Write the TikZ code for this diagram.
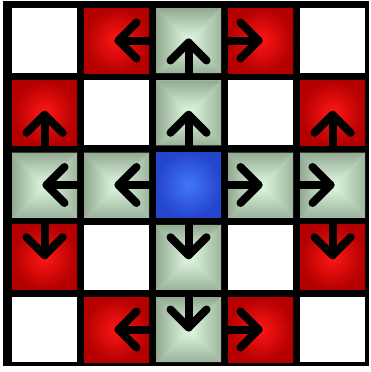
\documentclass[tikz,border=0pt]{standalone}
\usepackage{xcolor}
\usetikzlibrary{calc}
\definecolor{MoveRed}{RGB}{255,22,22}
\definecolor{MoveRedDark}{RGB}{180,0,0}
\definecolor{PathGreen}{RGB}{226,250,226}
\definecolor{PathGreenEdge}{RGB}{146,170,146}
\definecolor{HomeBlue}{RGB}{66,118,250}
\definecolor{HomeBlueDark}{RGB}{36,70,205}

\tikzset{
  mv/.style={line width=8pt, line cap=round, line join=round, black},
  redcell/.style={inner color=MoveRed, outer color=MoveRedDark},
  bluecell/.style={inner color=HomeBlue, outer color=HomeBlueDark},
}

% bevelled green square: four shaded triangles meeting at the centre
\newcommand{\greencell}[2]{%
  \pgfmathsetmacro\gxa{12+72*#1}\pgfmathsetmacro\gxb{\gxa+65}%
  \pgfmathsetmacro\gya{8+72.25*#2}\pgfmathsetmacro\gyb{\gya+65}%
  \pgfmathsetmacro\gxm{\gxa+32.5}\pgfmathsetmacro\gym{\gya+32.5}%
  \fill[PathGreenEdge!45!PathGreen] (\gxa,\gya) rectangle (\gxb,\gyb);
  \shade[top color=PathGreenEdge, bottom color=PathGreen] (\gxa,\gya) -- (\gxb,\gya) -- (\gxm,\gym) -- cycle;
  \shade[bottom color=PathGreenEdge!90!PathGreen, top color=PathGreen] (\gxa,\gyb) -- (\gxb,\gyb) -- (\gxm,\gym) -- cycle;
  \shade[left color=PathGreenEdge, right color=PathGreen] (\gxa,\gya) -- (\gxa,\gyb) -- (\gxm,\gym) -- cycle;
  \shade[right color=PathGreenEdge!85!PathGreen, left color=PathGreen] (\gxb,\gya) -- (\gxb,\gyb) -- (\gxm,\gym) -- cycle;
}

\begin{document}
\begin{tikzpicture}[x=1pt,y=-1pt]
  \path[use as bounding box] (0,0) rectangle (370,372);
  \fill[white] (0,0) rectangle (370,372);
  \fill[black] (3,0.5) rectangle (369,366);
  % white squares
  \foreach \c/\r in {0/0,4/0,1/1,3/1,1/3,3/3,0/4,4/4}
    \fill[white] (12+72*\c,8+72.25*\r) rectangle ++(65,65);
  % red squares
  \foreach \c/\r in {1/0,3/0,0/1,4/1,0/3,4/3,1/4,3/4}
    \shade[redcell] (12+72*\c,8+72.25*\r) rectangle ++(65,65);
  % green squares
  \foreach \c/\r in {2/0,2/1,0/2,1/2,3/2,4/2,2/3,2/4}
    \greencell{\c}{\r};
  % centre square
  \shade[bluecell] (156,152.5) rectangle ++(65,65);
  % moves
  \foreach \c/\r/\a in {1/0/180,2/0/90,3/0/0,
                        0/1/90,2/1/90,4/1/90,
                        0/2/180,1/2/180,3/2/0,4/2/0,
                        0/3/270,2/3/270,4/3/270,
                        1/4/180,2/4/270,3/4/0}
  {
    \begin{scope}[shift={(44.5+72*\c,40.5+72.25*\r)}, rotate=\a]
      \draw[mv] (-34,0) -- (-2,0);
      \draw[mv] (-20,18) -- (-2,0) -- (-20,-18);
    \end{scope}
  }
\end{tikzpicture}
\end{document}
